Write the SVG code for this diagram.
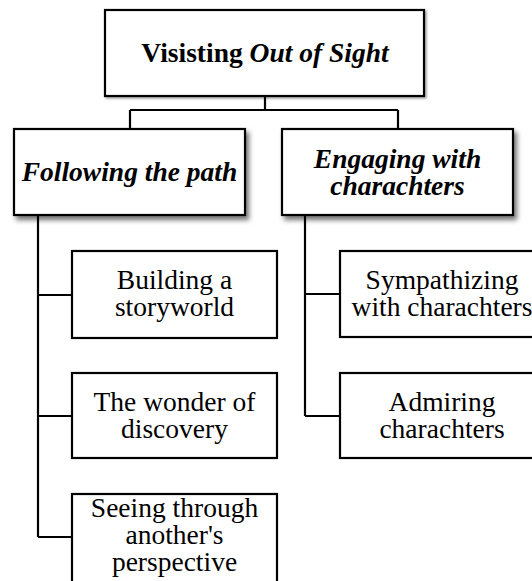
<svg xmlns="http://www.w3.org/2000/svg" width="532" height="581" viewBox="0 0 532 581">
<defs>
<filter id="sh" x="-10%" y="-10%" width="125%" height="135%">
<feDropShadow dx="3" dy="4" stdDeviation="2.5" flood-color="#000" flood-opacity="0.55"/>
</filter>
<filter id="sh2" x="-10%" y="-10%" width="125%" height="135%">
<feDropShadow dx="1.5" dy="1.5" stdDeviation="1" flood-color="#000" flood-opacity="0.4"/>
</filter>
</defs>
<style>
.box{fill:#fff;stroke:#000;stroke-width:2.2}
text{font-family:'Liberation Serif',Tinos,'Times New Roman',Times,serif;font-size:27.5px;fill:#000;text-anchor:middle}
.bi{font-weight:bold;font-style:italic}
.b{font-weight:bold}
.c{fill:none;stroke:#000;stroke-width:2.2}
</style>
<rect width="532" height="581" fill="#fff"/>
<g id="connectors">
<path class="c" d="M265 96V110M130 110H398M130 110V129M398 110V129"/>
<path class="c" d="M38 215V537M38 295H72M38 416H72M38 537H72"/>
<path class="c" d="M305 215V416M305 294H340M305 416H340"/>
</g>
<g id="root">
<rect class="box" x="105" y="10" width="319" height="86" filter="url(#sh2)"/>
<text class="b" x="265" y="62">Visisting <tspan class="bi">Out of Sight</tspan></text>
</g>
<g id="following">
<rect class="box" x="14" y="129" width="231" height="86" filter="url(#sh)"/>
<text class="bi" x="129.5" y="181">Following the path</text>
</g>
<g id="engaging">
<rect class="box" x="282" y="129" width="231" height="86" filter="url(#sh)"/>
<text class="bi" x="397.5" y="168">Engaging with</text>
<text class="bi" x="397.5" y="195">charachters</text>
</g>
<g id="building">
<rect class="box" x="72" y="251" width="205" height="87"/>
<text x="174.5" y="289">Building a</text>
<text x="174.5" y="316">storyworld</text>
</g>
<g id="wonder">
<rect class="box" x="72" y="373" width="205" height="85"/>
<text x="174.5" y="411">The wonder of</text>
<text x="174.5" y="438">discovery</text>
</g>
<g id="seeing">
<rect class="box" x="72" y="494" width="205" height="100"/>
<text x="174.5" y="517">Seeing through</text>
<text x="174.5" y="544">another's</text>
<text x="174.5" y="571">perspective</text>
</g>
<g id="sympathizing">
<rect class="box" x="340" y="251" width="205" height="86"/>
<text x="442" y="289">Sympathizing</text>
<text x="442" y="316">with charachters</text>
</g>
<g id="admiring">
<rect class="box" x="340" y="373" width="205" height="85"/>
<text x="442" y="411">Admiring</text>
<text x="442" y="438">charachters</text>
</g>
</svg>
